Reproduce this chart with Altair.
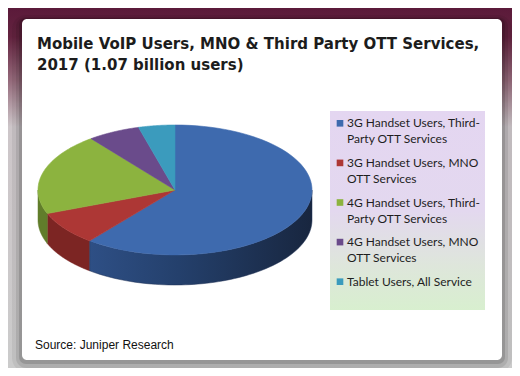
import altair as alt
import pandas as pd

# ---------------- data ----------------
CATEGORIES = [
    "3G Handset Users, Third-Party OTT Services",
    "3G Handset Users, MNO OTT Services",
    "4G Handset Users, Third-Party OTT Services",
    "4G Handset Users, MNO OTT Services",
    "Tablet Users, All Service",
]
LEGEND_LABELS = [
    "3G Handset Users, Third-\nParty OTT Services",
    "3G Handset Users, MNO\nOTT Services",
    "4G Handset Users, Third-\nParty OTT Services",
    "4G Handset Users, MNO\nOTT Services",
    "Tablet Users, All Service",
]
SHARES = [60.7, 8.4, 20.4, 6.2, 4.3]
TOP_COLORS = ["#3e6aae", "#ad3735", "#8cb33f", "#6a4b8b", "#3b9bbd"]
SIDE_COLORS = ["#233c66", "#7c2523", "#617d2b", "#4a3461", "#2a6e86"]
TITLE = ["Mobile VoIP Users, MNO & Third Party OTT Services,", "2017 (1.07 billion users)"]
SOURCE = "Source: Juniper Research"

# ---------------- layout ----------------
W, H = 504, 360
OX, OY = 8, 8
CX, CY = 175 - OX, 190 - OY
RX, RY, DEPTH = 137.0, 65.0, 30.0
N = 72

df = pd.DataFrame({
    "cat": CATEGORIES,
    "share": SHARES,
    "order": list(range(len(CATEGORIES))),
    "line1": [s.split("\n")[0] for s in LEGEND_LABELS],
    "line2": [s.split("\n")[1] if "\n" in s else "" for s in LEGEND_LABELS],
})
one = pd.DataFrame({"k": [0]})

xs = alt.Scale(domain=[-CX / RX, (W - CX) / RX], range=[0, W], nice=False, zero=False)
ys = alt.Scale(domain=[(CY - H) / RY, CY / RY], range=[H, 0], nice=False, zero=False)
top_fill = alt.Scale(domain=CATEGORIES, range=TOP_COLORS)
side_fill = alt.Scale(domain=CATEGORIES, range=SIDE_COLORS)


def rect(x, x2, y, y2, **kw):
    return alt.Chart(one).mark_rect(**kw).encode(
        x=alt.value(x), x2=alt.value(x2), y=alt.value(y), y2=alt.value(y2))


bg = rect(0, W, 0, H, fill=alt.Gradient(
    gradient="linear", x1=0, x2=0, y1=0, y2=1,
    stops=[alt.GradientStop(color="#5b1a3a", offset=0),
           alt.GradientStop(color="#63233f", offset=0.08),
           alt.GradientStop(color="#94697a", offset=0.2),
           alt.GradientStop(color="#cdc6c9", offset=0.33),
           alt.GradientStop(color="#cbcbcb", offset=1)]))

card_x, card_x2, card_y, card_y2 = 22 - OX, 502 - OX, 19 - OY, 360 - OY
shadows = [
    rect(card_x - 10, card_x2 + 10, card_y - 4, card_y2 + 12, fill="#000", opacity=0.06, cornerRadius=14),
    rect(card_x - 6, card_x2 + 6, card_y - 2, card_y2 + 8, fill="#000", opacity=0.09, cornerRadius=10),
    rect(card_x - 3, card_x2 + 3, card_y - 1, card_y2 + 4, fill="#000", opacity=0.13, cornerRadius=7),
]
card = rect(card_x, card_x2, card_y, card_y2, fill="#ffffff", cornerRadius=5)


def pie_base():
    return (alt.Chart(df)
            .transform_window(cum="sum(share)", sort=[alt.SortField("order")], frame=[None, 0])
            .transform_joinaggregate(total="sum(share)")
            .transform_calculate(a0="2*PI*(datum.cum-datum.share)/datum.total")
            .transform_calculate(a1="2*PI*datum.cum/datum.total"))


def side_base():
    return (pie_base()
            .transform_calculate(s0="max(datum.a0, PI/2)")
            .transform_calculate(s1="min(datum.a1, 3*PI/2)")
            .transform_filter("datum.s1 > datum.s0")
            .transform_calculate(k=f"sequence(0, {2 * N + 2})")
            .transform_flatten(["k"])
            .transform_calculate(a=f"datum.k <= {N} ? datum.s0 + datum.k/{N}*(datum.s1-datum.s0) : datum.s1 - (datum.k-{N + 1})/{N}*(datum.s1-datum.s0)")
            .transform_calculate(u="sin(datum.a)")
            .transform_calculate(v=f"datum.k <= {N} ? cos(datum.a) : cos(datum.a) - {DEPTH / RY}"))


pos = dict(x=alt.X("u:Q", scale=xs, axis=None), y=alt.Y("v:Q", scale=ys, axis=None),
           order="k:Q", detail="cat:N")

side_other = (side_base().transform_filter(alt.datum.cat != CATEGORIES[0])
              .mark_line(interpolate="linear-closed", strokeWidth=0.5)
              .encode(fill=alt.Fill("cat:N", scale=side_fill, legend=None),
                      stroke=alt.Stroke("cat:N", scale=side_fill, legend=None), **pos))

side_blue = (side_base().transform_filter(alt.datum.cat == CATEGORIES[0])
             .mark_line(interpolate="linear-closed", strokeWidth=0.5, stroke="#1e3154",
                        fill=alt.Gradient(gradient="linear", x1=0, x2=1, y1=0, y2=0,
                                          stops=[alt.GradientStop(color="#2e4f85", offset=0),
                                                 alt.GradientStop(color="#24406c", offset=0.4),
                                                 alt.GradientStop(color="#18263f", offset=1)]))
             .encode(**pos))

top = (pie_base()
       .transform_calculate(k=f"sequence(0, {N + 2})")
       .transform_flatten(["k"])
       .transform_calculate(a=f"datum.a0 + (datum.k-1)/{N}*(datum.a1-datum.a0)")
       .transform_calculate(u="datum.k == 0 ? 0 : sin(datum.a)")
       .transform_calculate(v="datum.k == 0 ? 0 : cos(datum.a)")
       .mark_line(interpolate="linear-closed", strokeWidth=0.6)
       .encode(fill=alt.Fill("cat:N", scale=top_fill, legend=None),
               stroke=alt.Stroke("cat:N", scale=top_fill, legend=None), **pos))

# ---------------- legend ----------------
leg_box = rect(330 - OX, 485 - OX, 111 - OY, 310 - OY, fill=alt.Gradient(
    gradient="linear", x1=0, x2=0, y1=0, y2=1,
    stops=[alt.GradientStop(color="#e4d6f1", offset=0),
           alt.GradientStop(color="#e3d8ef", offset=0.5),
           alt.GradientStop(color="#dee6db", offset=0.78),
           alt.GradientStop(color="#d8efcf", offset=1)]))

ly = alt.Y("order:Q", scale=alt.Scale(domain=[0, 4], range=[123.3 - OY, 281.7 - OY], nice=False, zero=False), axis=None)
leg_sq = alt.Chart(df).mark_square(size=44, opacity=1).encode(
    x=alt.value(340 - OX), y=ly, fill=alt.Fill("cat:N", scale=top_fill, legend=None))
leg_t1 = alt.Chart(df).mark_text(align="left", baseline="middle", font="Lato", fontSize=12, color="#1e1e1e").encode(
    x=alt.value(347 - OX), y=ly, text="line1:N")
leg_t2 = alt.Chart(df).mark_text(align="left", baseline="middle", font="Lato", fontSize=12, color="#1e1e1e", dy=16).encode(
    x=alt.value(347 - OX), y=ly, text="line2:N")

# ---------------- texts ----------------
def txt(s, x, y, **kw):
    return alt.Chart(pd.DataFrame({"t": [s]})).mark_text(align="left", **kw).encode(
        x=alt.value(x), y=alt.value(y), text="t:N")


title1 = txt(TITLE[0], 37 - OX, 49 - OY, baseline="alphabetic", font="DejaVu Sans", fontWeight="bold", fontSize=15, color="#1c1c1c")
title2 = txt(TITLE[1], 37 - OX, 70 - OY, baseline="alphabetic", font="DejaVu Sans", fontWeight="bold", fontSize=15, color="#1c1c1c")
source = txt(SOURCE, 35 - OX, 345 - OY, baseline="middle", font="Liberation Sans", fontSize=12, color="#111111")

chart = (alt.layer(bg, *shadows, card, side_other, side_blue, top, leg_box, leg_sq, leg_t1, leg_t2,
                   title1, title2, source)
         .resolve_scale(y="independent", fill="independent", stroke="independent")
         .properties(width=W, height=H, autosize=alt.AutoSizeParams(type="none"), padding=0)
         .configure_view(stroke=None))

chart.save("out.html", embed_options={"renderer": "svg", "actions": False})
